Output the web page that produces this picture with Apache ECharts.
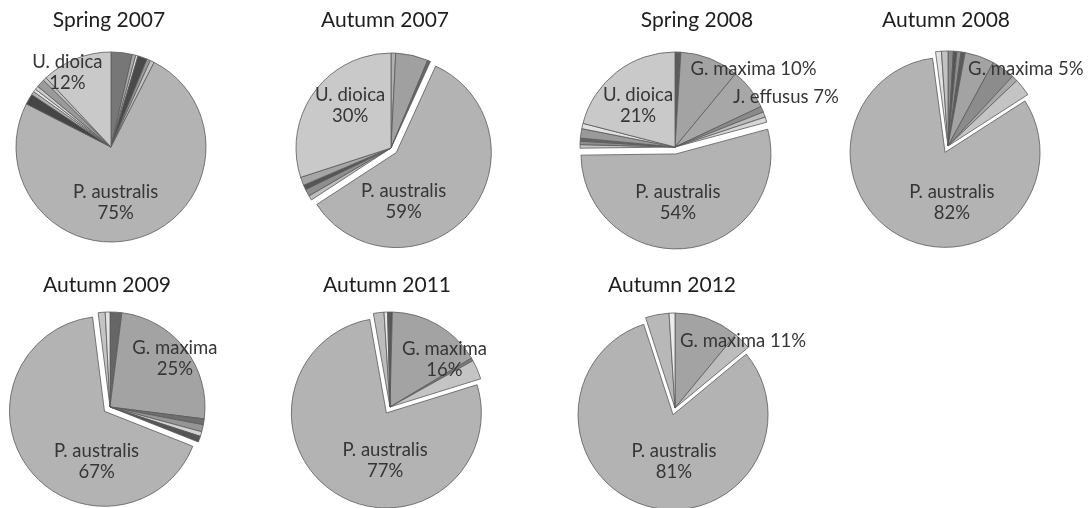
<!DOCTYPE html>
<html>
<head>
<meta charset="utf-8">
<script src="https://cdn.jsdelivr.net/npm/echarts@6/dist/echarts.min.js"></script>
<style>
  html, body { margin: 0; padding: 0; background: #ffffff; }
  #chart { width: 1090px; height: 508px; }
</style>
</head>
<body>
<div id="chart"></div>
<script>
// Survey dates, one pie each
const surveys = ['Spring 2007', 'Autumn 2007', 'Spring 2008', 'Autumn 2008',
                 'Autumn 2009', 'Autumn 2011', 'Autumn 2012'];

// Share of vegetation cover (%) per species, slices listed clockwise from 12 o'clock
const spring2007Species = ['other', 'other', 'other', 'other', 'other', 'other', 'P. australis',
                           'other', 'other', 'other', 'other', 'other', 'other', 'U. dioica'];
const spring2007Share   = [3.6, 0.6, 0.4, 1.6, 0.6, 0.7, 75, 1.8, 0.6, 0.5, 0.6, 1.4, 0.6, 12];

const autumn2007Species = ['other', 'other', 'other', 'P. australis', 'other', 'other', 'other', 'other', 'U. dioica'];
const autumn2007Share   = [0.8, 5.5, 0.5, 59, 0.8, 1.2, 0.8, 1.4, 30];

const spring2008Species = ['other', 'G. maxima', 'J. effusus', 'other', 'other', 'other', 'P. australis',
                           'other', 'other', 'other', 'other', 'other', 'U. dioica'];
const spring2008Share   = [1.0, 10, 7, 1.0, 0.9, 0.9, 54, 0.6, 0.6, 0.5, 1.6, 0.9, 21];

const autumn2008Species = ['other', 'other', 'other', 'other', 'G. maxima', 'other', 'other', 'other',
                           'P. australis', 'other', 'other'];
const autumn2008Share   = [0.9, 0.6, 0.7, 0.7, 5, 4.0, 1.0, 3.0, 82, 1.0, 1.1];

const autumn2009Species = ['other', 'G. maxima', 'other', 'other', 'other', 'other', 'P. australis', 'other', 'other'];
const autumn2009Share   = [2, 25, 1.0, 1.2, 0.8, 1.0, 67, 1.2, 0.8];

const autumn2011Species = ['other', 'G. maxima', 'other', 'other', 'P. australis', 'other', 'other', 'other'];
const autumn2011Share   = [0.4, 16, 0.5, 3.3, 77, 1.8, 0.6, 0.4];

const autumn2012Species = ['G. maxima', 'other', 'P. australis', 'other', 'other'];
const autumn2012Share   = [11, 3, 81, 4, 1];

const speciesBySurvey = [spring2007Species, autumn2007Species, spring2008Species, autumn2008Species,
                         autumn2009Species, autumn2011Species, autumn2012Species];
const shareBySurvey = [spring2007Share, autumn2007Share, spring2008Share, autumn2008Share,
                       autumn2009Share, autumn2011Share, autumn2012Share];

// Grey shades for the slices, same order as the data above
const PA = '#b3b3b3', UD = '#c9c9c9', GM = '#a3a3a3', JE = '#a7a7a7';
const shadesBySurvey = [
  ['#777777', '#aaaaaa', '#dddddd', '#4a4a4a', '#999999', '#c4c4c4', PA,
   '#454545', '#b5b5b5', '#e6e6e6', '#cfcfcf', '#9a9a9a', '#c0c0c0', UD],
  ['#b0b0b0', '#a0a0a0', '#666666', PA, '#bdbdbd', '#8e8e8e', '#555555', '#a6a6a6', UD],
  ['#5c5c5c', GM, JE, '#8a8a8a', '#bbbbbb', '#d6d6d6', PA, '#c6c6c6', '#8c8c8c', '#666666', '#9a9a9a', '#e2e2e2', UD],
  ['#8a8a8a', '#555555', '#8e8e8e', '#5a5a5a', GM, '#8c8c8c', '#a8a8a8', '#c4c4c4', PA, '#e0e0e0', '#c2c2c2'],
  ['#666666', GM, '#6e6e6e', '#959595', '#d2d2d2', '#555555', PA, '#c4c4c4', '#e4e4e4'],
  ['#555555', GM, '#7a7a7a', '#c4c4c4', PA, '#bcbcbc', '#e6e6e6', '#5a5a5a'],
  [GM, '#bdbdbd', PA, '#b8b8b8', '#ececec']
];

// Layout
const pieCenters   = [[111, 147], [391, 148], [675, 147], [948, 146], [110, 407], [390, 407], [675, 408]];
const titleCenters = [[109, 10], [385, 10], [697, 10], [946, 10], [107, 275], [387, 275], [672, 275]];
const PIE_RADIUS = 95;
const EXPLODE = 7;
const explodedSpecies = [[], ['P. australis'], ['P. australis'], ['P. australis'],
                         ['P. australis'], ['P. australis'], ['P. australis']];
const labelledSpecies = [['U. dioica', 'P. australis'], ['U. dioica', 'P. australis'],
                         ['U. dioica', 'G. maxima', 'J. effusus', 'P. australis'], ['G. maxima', 'P. australis'],
                         ['G. maxima', 'P. australis'], ['G. maxima', 'P. australis'], ['G. maxima', 'P. australis']];
const singleLineLabels = [[], [], ['G. maxima', 'J. effusus'], ['G. maxima'], [], [], ['G. maxima']];
// Label shifts from the default inside position, in px
const labelNudges = [
  { 'U. dioica': [-25, -28], 'P. australis': [-11, 8] },
  { 'U. dioica': [0, -13], 'P. australis': [-31, 16] },
  { 'U. dioica': [-6, -2], 'G. maxima': [60, -31], 'J. effusus': [71, -19], 'P. australis': [-5, -1] },
  { 'G. maxima': [61, -29], 'P. australis': [28, 4] },
  { 'G. maxima': [25, -18], 'P. australis': [32, 19] },
  { 'G. maxima': [29, -4], 'P. australis': [25, 4] },
  { 'G. maxima': [51, -19], 'P. australis': [15, -2] }
];

const FONT = 'Lato, "Noto Sans", sans-serif';

const series = surveys.map(function (survey, i) {
  const species = speciesBySurvey[i];
  return {
    type: 'pie',
    name: survey,
    center: pieCenters[i],
    radius: PIE_RADIUS,
    startAngle: 90,
    clockwise: true,
    selectedMode: 'multiple',
    selectedOffset: EXPLODE,
    avoidLabelOverlap: false,
    silent: true,
    animation: false,
    emphasis: { disabled: true },
    itemStyle: { borderColor: '#5a5a5a', borderWidth: 0.8 },
    labelLine: { show: false },
    label: { show: false },
    labelLayout: function (p) {
      const n = labelNudges[i][species[p.dataIndex]];
      return n ? { dx: n[0], dy: n[1] } : {};
    },
    data: species.map(function (name, k) {
      const labelled = labelledSpecies[i].indexOf(name) >= 0;
      const oneLine = singleLineLabels[i].indexOf(name) >= 0;
      return {
        name: name === 'other' ? 'other ' + (k + 1) : name,
        value: shareBySurvey[i][k],
        selected: explodedSpecies[i].indexOf(name) >= 0,
        itemStyle: { color: shadesBySurvey[i][k] },
        label: labelled ? {
          show: true,
          position: 'inside',
          formatter: oneLine ? '{b} {c}%' : '{b}\n{c}%',
          fontFamily: FONT,
          fontSize: 18.5,
          lineHeight: 21,
          color: '#363636',
          align: 'center'
        } : { show: false }
      };
    })
  };
});

const chart = echarts.init(document.getElementById('chart'), null, { renderer: 'canvas' });
chart.setOption({
  backgroundColor: '#ffffff',
  animation: false,
  title: surveys.map(function (t, i) {
    return {
      text: t,
      left: titleCenters[i][0],
      top: titleCenters[i][1],
      textAlign: 'center',
      padding: 0,
      textStyle: { fontFamily: FONT, fontSize: 21, fontWeight: 'normal', color: '#1e1e1e' }
    };
  }),
  series: series
});
</script>
</body>
</html>
